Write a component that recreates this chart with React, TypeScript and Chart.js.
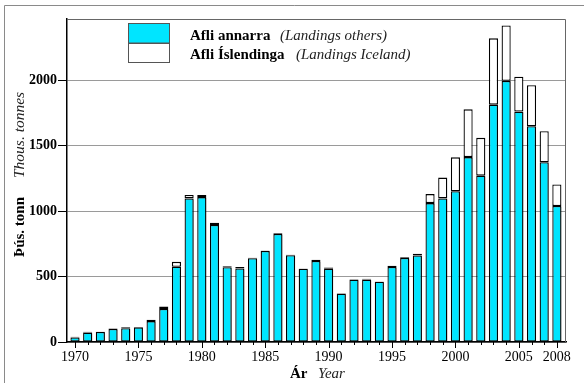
import React, { useEffect, useRef } from 'react';
import { Chart, registerables } from 'chart.js';

Chart.register(...registerables);

const years = [
  1970, 1971, 1972, 1973, 1974, 1975, 1976, 1977, 1978, 1979,
  1980, 1981, 1982, 1983, 1984, 1985, 1986, 1987, 1988, 1989,
  1990, 1991, 1992, 1993, 1994, 1995, 1996, 1997, 1998, 1999,
  2000, 2001, 2002, 2003, 2004, 2005, 2006, 2007, 2008,
];
// Afli annarra (Landings others), thousand tonnes
const others = [
  35, 72, 76, 100, 106, 112, 160, 253, 575, 1098,
  1108, 895, 572, 562, 640, 697, 826, 663, 560, 620,
  560, 370, 477, 477, 461, 573, 643, 662, 1062, 1098,
  1153, 1414, 1272, 1815, 1997, 1762, 1650, 1374, 1040,
];
// Afli Íslendinga (Landings Iceland), thousand tonnes
const iceland = [
  5, 6, 2, 4, 6, 3, 10, 18, 38, 27,
  17, 17, 8, 11, 4, 3, 5, 4, 3, 9,
  10, 2, 2, 7, 2, 10, 6, 12, 69, 159,
  259, 365, 289, 507, 423, 266, 314, 238, 164,
];
const yTicks = [0, 500, 1000, 1500, 2000];
const xLabelYears = [1970, 1975, 1980, 1985, 1990, 1995, 2000, 2005, 2008];

const legendOthers = ['Afli annarra', '(Landings others)'];
const legendIceland = ['Afli Íslendinga', '(Landings Iceland)'];
const yTitle = ['Þús. tonn', 'Thous. tonnes'];
const xTitle = ['Ár', 'Year'];

const SERIF = '"Liberation Serif", "Times New Roman", serif';
const CYAN = 'rgb(0,229,255)';

const shadowPlugin = {
  id: 'barShadow',
  beforeDatasetDraw(chart: any, args: any) {
    const ctx = chart.ctx;
    ctx.save();
    if (args.index === 0) {
      ctx.shadowColor = 'rgba(0,0,0,0.3)';
      ctx.shadowOffsetX = 1.5;
      ctx.shadowOffsetY = 1;
      ctx.shadowBlur = 0;
    }
  },
  afterDatasetDraw(chart: any) {
    chart.ctx.restore();
  },
};

const decorPlugin = {
  id: 'decor',
  afterDraw(chart: any) {
    const ctx = chart.ctx as CanvasRenderingContext2D;
    const area = chart.chartArea;
    const xs = chart.scales.x;
    ctx.save();

    // outer frame
    ctx.strokeStyle = '#8a8a8a';
    ctx.lineWidth = 1;
    ctx.beginPath();
    ctx.moveTo(4.5, 383);
    ctx.lineTo(4.5, 5.5);
    ctx.lineTo(584, 5.5);
    ctx.stroke();

    // plot box top/right
    ctx.strokeStyle = '#666';
    ctx.beginPath();
    ctx.moveTo(area.left, area.top + 0.5);
    ctx.lineTo(area.right - 0.5, area.top + 0.5);
    ctx.lineTo(area.right - 0.5, area.bottom);
    ctx.stroke();

    // x ticks (minor every year, major at labelled years)
    ctx.strokeStyle = '#000';
    ctx.lineWidth = 1;
    years.forEach((yr) => {
      const px = Math.round(xs.getPixelForValue(yr)) + 0.5;
      const major = xLabelYears.includes(yr);
      ctx.beginPath();
      ctx.moveTo(px, area.bottom);
      ctx.lineTo(px, area.bottom + (major ? 6 : 3));
      ctx.stroke();
    });

    // legend
    ctx.fillStyle = CYAN;
    ctx.fillRect(128.5, 23.5, 41, 19.5);
    ctx.strokeStyle = '#555';
    ctx.lineWidth = 1;
    ctx.strokeRect(128.5, 23.5, 41, 19.5);
    ctx.fillStyle = '#fff';
    ctx.fillRect(128.5, 43.5, 41, 19);
    ctx.strokeRect(128.5, 43.5, 41, 19);

    ctx.fillStyle = '#000';
    ctx.textBaseline = 'alphabetic';
    ctx.textAlign = 'left';
    ctx.font = `bold 15px ${SERIF}`;
    ctx.fillText(legendOthers[0], 190, 39.5);
    ctx.fillText(legendIceland[0], 190, 58.5);
    ctx.font = `italic 15px ${SERIF}`;
    ctx.fillStyle = '#222';
    ctx.fillText(legendOthers[1], 280, 39.5);
    ctx.fillText(legendIceland[1], 296, 58.5);

    // y title (rotated)
    ctx.save();
    ctx.translate(24, 257);
    ctx.rotate(-Math.PI / 2);
    ctx.fillStyle = '#000';
    ctx.font = `bold 15px ${SERIF}`;
    ctx.fillText(yTitle[0], 0, 0);
    ctx.fillStyle = '#222';
    ctx.font = `italic 15.5px ${SERIF}`;
    ctx.fillText(yTitle[1], 79, 0);
    ctx.restore();

    // x title
    ctx.fillStyle = '#000';
    ctx.font = `bold 15px ${SERIF}`;
    ctx.fillText(xTitle[0], 290, 378);
    ctx.fillStyle = '#222';
    ctx.font = `italic 15px ${SERIF}`;
    ctx.fillText(xTitle[1], 318, 378);

    ctx.restore();
  },
};

export default function App() {
  const ref = useRef<HTMLCanvasElement>(null);

  useEffect(() => {
    if (!ref.current) return;
    const chart = new Chart(ref.current, {
      type: 'bar',
      data: {
        datasets: [
          {
            label: 'Afli annarra',
            data: years.map((yr, i) => ({ x: yr, y: others[i] })),
            backgroundColor: CYAN,
            borderColor: '#000',
            borderWidth: 1.3,
            borderSkipped: false,
            barPercentage: 0.72,
            categoryPercentage: 1,
          },
          {
            label: 'Afli Íslendinga',
            data: years.map((yr, i) => ({ x: yr, y: iceland[i] })),
            backgroundColor: '#fff',
            borderColor: '#000',
            borderWidth: 1.3,
            borderSkipped: false,
            barPercentage: 0.72,
            categoryPercentage: 1,
          },
        ],
      },
      options: {
        animation: false,
        responsive: true,
        maintainAspectRatio: false,
        layout: { padding: { left: 0, top: 19, right: 18, bottom: 0 } },
        plugins: {
          legend: { display: false },
          tooltip: { enabled: false },
        },
        scales: {
          x: {
            type: 'linear',
            min: 1969.37,
            max: 2008.72,
            stacked: true,
            offset: false,
            grid: { display: true, drawOnChartArea: false, drawTicks: false },
            border: { color: '#000', width: 1.5 },
            ticks: {
              font: { family: SERIF, size: 14 },
              color: '#000',
              padding: 7,
              autoSkip: false,
              maxRotation: 0,
              callback: (v: any) => (xLabelYears.includes(Number(v)) ? String(v) : ''),
            },
            afterBuildTicks: (s: any) => {
              s.ticks = years.map((v) => ({ value: v }));
            },
            afterFit: (s: any) => {
              s.height = 41;
            },
          },
          y: {
            type: 'linear',
            min: 0,
            max: 2470,
            stacked: true,
            grid: { color: '#9a9a9a', tickColor: '#000', tickLength: 9, lineWidth: 1 },
            border: { color: '#000', width: 1.5 },
            ticks: {
              font: { family: SERIF, size: 14, weight: 'bold' },
              color: '#000',
              padding: 1,
              callback: (v: any) => String(v),
            },
            afterBuildTicks: (s: any) => {
              s.ticks = yTicks.map((v) => ({ value: v }));
            },
            afterFit: (s: any) => {
              s.width = 67;
            },
          },
        },
      } as any,
      plugins: [shadowPlugin, decorPlugin],
    });
    return () => chart.destroy();
  }, []);

  return (
    <div style={{ position: 'fixed', left: 0, top: 0, width: 584, height: 383, background: '#fff' }}>
      <canvas ref={ref} />
    </div>
  );
}
